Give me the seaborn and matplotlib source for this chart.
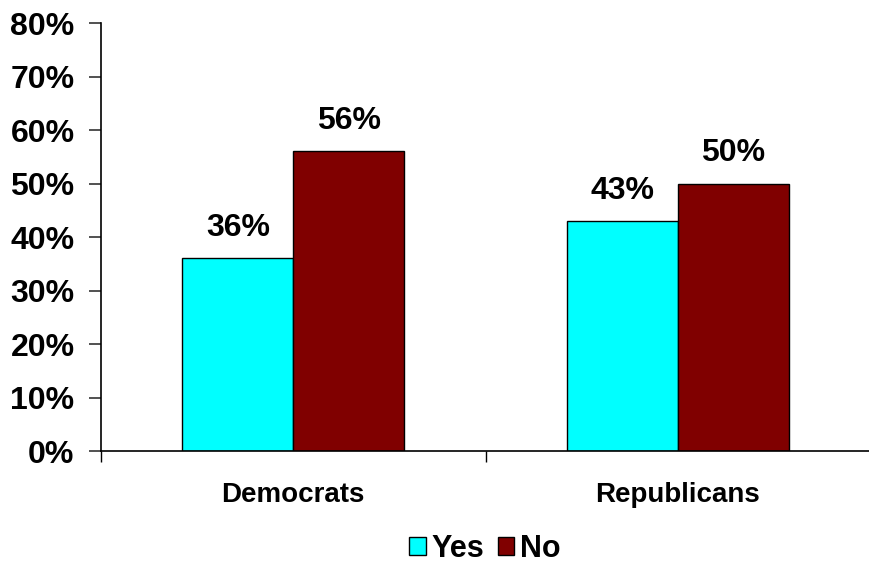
import pandas as pd
import matplotlib
matplotlib.use('Agg')
import matplotlib.pyplot as plt
import seaborn as sns

parties = ['Democrats', 'Republicans']
answers = ['Yes', 'No']
yes_pct = [36, 43]
no_pct = [56, 50]

df = pd.DataFrame({
    'Party': parties * 2,
    'Answer': ['Yes'] * 2 + ['No'] * 2,
    'Pct': yes_pct + no_pct,
})

sns.set_style('white')
plt.rcParams['font.family'] = ['Liberation Sans', 'DejaVu Sans']
plt.rcParams['font.weight'] = 'bold'
plt.rcParams['text.color'] = 'black'
plt.rcParams['xtick.color'] = 'black'
plt.rcParams['ytick.color'] = 'black'

fig = plt.figure(figsize=(8.7, 5.63), dpi=100)
ax = fig.add_axes([0.1161, 0.1989, 0.8839, 0.7602])

sns.barplot(data=df, x='Party', y='Pct', hue='Answer', hue_order=answers,
            palette=['#00FFFF', '#800000'], width=0.577, edgecolor='black',
            linewidth=1, saturation=1, ax=ax, legend=False)

for cont in ax.containers:
    ax.bar_label(cont, labels=[f'{v:.0f}%' for v in cont.datavalues],
                 padding=11, fontsize=23, fontweight='bold', color='black')

ax.set_xlim(-0.5, 1.5)
ax.set_ylim(0, 80)
ax.set_yticks(range(0, 81, 10))
ax.set_yticklabels([f'{v}%' for v in range(0, 81, 10)], fontsize=23, fontweight='bold')
ax.set_xticks([0, 1])
ax.set_xticklabels(parties, fontsize=20, fontweight='bold')
ax.set_xticks([-0.5, 0.5, 1.5], minor=True)
ax.tick_params(axis='x', which='major', length=0, pad=22)
ax.tick_params(axis='x', which='minor', length=8, width=1, color='black', direction='out', bottom=True)
ax.tick_params(axis='y', length=9, width=1.2, color='#333333', direction='out', left=True, pad=10)
ax.set_xlabel('')
ax.set_ylabel('')

for s in ['top', 'right']:
    ax.spines[s].set_visible(False)
for s in ['left', 'bottom']:
    ax.spines[s].set_color('black')
    ax.spines[s].set_linewidth(1.2)

handles = [plt.Rectangle((0, 0), 1, 1, facecolor=c, edgecolor='black', linewidth=1)
           for c in ['#00FFFF', '#800000']]
fig.legend(handles, answers, loc='center', bbox_to_anchor=(0.557, 0.025), ncol=2,
           frameon=False, prop={'size': 22, 'weight': 'bold'}, borderaxespad=0,
           handlelength=0.55, handleheight=0.55, handletextpad=0.18, columnspacing=0.45)

fig.savefig('out.png', dpi=100)
